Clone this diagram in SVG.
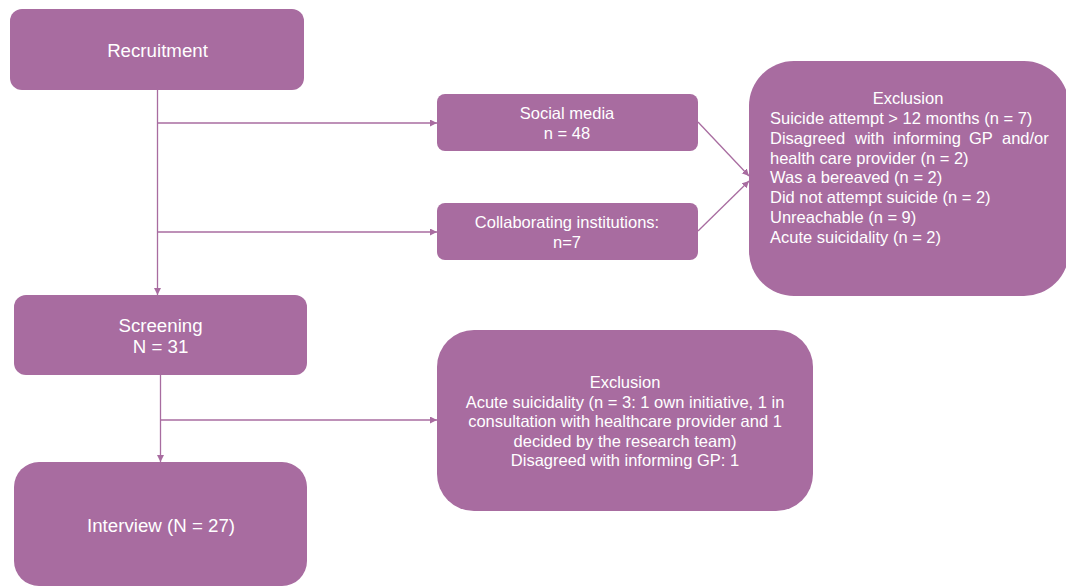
<svg xmlns="http://www.w3.org/2000/svg" width="1066" height="586" viewBox="0 0 1066 586">
<style>
.box{fill:#A86CA0;}
.t{font-family:"Liberation Sans",Arial,sans-serif;fill:#ffffff;}
.big{font-size:18.7px;}
.sm{font-size:16.5px;}
.c{text-anchor:middle;}
.con{stroke:#A86CA0;stroke-width:1.3;fill:none;}
</style>
<defs>
<marker id="ah" markerWidth="8" markerHeight="8" refX="7" refY="3.5" orient="auto" markerUnits="userSpaceOnUse">
<path d="M0,0 L7,3.5 L0,7 Z" fill="#A86CA0"/>
</marker>
</defs>
<rect width="1066" height="586" fill="#ffffff"/>
<g id="connectors">
<line class="con" x1="157.5" y1="90" x2="157.5" y2="295" marker-end="url(#ah)"/>
<line class="con" x1="157.5" y1="123" x2="437" y2="123" marker-end="url(#ah)"/>
<line class="con" x1="157.5" y1="232" x2="437" y2="232" marker-end="url(#ah)"/>
<line class="con" x1="698" y1="122" x2="749" y2="176" marker-end="url(#ah)"/>
<line class="con" x1="698" y1="231" x2="749" y2="181" marker-end="url(#ah)"/>
<line class="con" x1="160.5" y1="375" x2="160.5" y2="462" marker-end="url(#ah)"/>
<line class="con" x1="160.5" y1="420" x2="437" y2="420" marker-end="url(#ah)"/>
</g>
<g id="recruitment">
<rect class="box" x="10" y="9" width="294" height="81" rx="12"/>
<text class="t big c" x="157.5" y="57">Recruitment</text>
</g>
<g id="social-media">
<rect class="box" x="437" y="94" width="261" height="57" rx="8"/>
<text class="t sm c" x="567" y="119">Social media</text>
<text class="t sm c" x="567" y="139">n = 48</text>
</g>
<g id="collaborating">
<rect class="box" x="437" y="203" width="261" height="57" rx="8"/>
<text class="t sm c" x="567" y="228">Collaborating institutions:</text>
<text class="t sm c" x="567" y="248">n=7</text>
</g>
<g id="exclusion1">
<rect class="box" x="749" y="61" width="320" height="235" rx="45"/>
<text class="t sm c" x="908" y="104">Exclusion</text>
<text class="t sm" x="770" y="124">Suicide attempt &gt; 12 months (n = 7)</text>
<text class="t sm" y="144"><tspan x="770">Disagreed</tspan><tspan x="855">with</tspan><tspan x="893">informing</tspan><tspan x="969">GP</tspan><tspan x="1002">and/or</tspan></text>
<text class="t sm" x="770" y="164">health care provider (n = 2)</text>
<text class="t sm" x="770" y="183">Was a bereaved (n = 2)</text>
<text class="t sm" x="770" y="203">Did not attempt suicide (n = 2)</text>
<text class="t sm" x="770" y="223">Unreachable (n = 9)</text>
<text class="t sm" x="770" y="243">Acute suicidality (n = 2)</text>
</g>
<g id="screening">
<rect class="box" x="14" y="295" width="293" height="80" rx="12"/>
<text class="t big c" x="160.5" y="332">Screening</text>
<text class="t big c" x="160.5" y="353">N = 31</text>
</g>
<g id="exclusion2">
<rect class="box" x="437" y="330" width="376" height="181" rx="37"/>
<text class="t sm c" x="625" y="388">Exclusion</text>
<text class="t sm c" x="625" y="408">Acute suicidality (n = 3: 1 own initiative, 1 in</text>
<text class="t sm c" x="625" y="427">consultation with healthcare provider and 1</text>
<text class="t sm c" x="625" y="447">decided by the research team)</text>
<text class="t sm c" x="625" y="466">Disagreed with informing GP: 1</text>
</g>
<g id="interview">
<rect class="box" x="14" y="462" width="293" height="124" rx="25"/>
<text class="t big c" x="161" y="532">Interview (N = 27)</text>
</g>
</svg>
